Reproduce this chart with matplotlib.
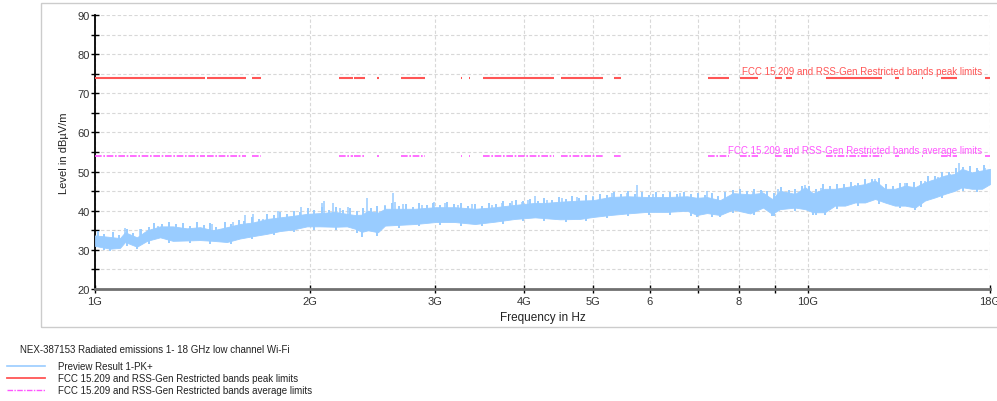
import numpy as np
import matplotlib
matplotlib.use("Agg")
import matplotlib.pyplot as plt
from matplotlib.lines import Line2D
from matplotlib.patches import Rectangle
from matplotlib.ticker import FixedLocator, NullFormatter

plt.rcParams['font.family'] = ['Liberation Sans', 'DejaVu Sans']

# ---- measured trace: envelope of the preview scan (GHz, dBuV/m) ----
env_freq = [1.000, 1.050, 1.084, 1.102, 1.145, 1.183, 1.234, 1.286, 1.346, 1.404,
            1.464, 1.531, 1.597, 1.666, 1.743, 1.817, 1.895, 1.983, 2.068, 2.171,
            2.256, 2.316, 2.368, 2.415, 2.494, 2.551, 2.811, 3.000, 3.198, 3.412,
            3.639, 3.882, 4.141, 4.277, 4.489, 4.788, 4.995, 5.277, 5.574, 5.946,
            6.343, 6.766, 6.988, 7.217, 7.527, 7.850, 8.294, 8.650, 8.904, 9.136,
            9.589, 9.904, 10.16, 10.56, 10.91, 11.27, 11.64, 12.02, 12.42, 12.82,
            13.24, 13.68, 14.13, 14.59, 15.07, 15.56, 16.07, 16.44, 16.98, 17.54, 18.0]
env_top = [33.7, 33.3, 33.0, 34.5, 33.2, 35.0, 36.0, 36.0, 35.5, 35.8,
           35.0, 35.8, 36.6, 37.0, 37.9, 38.3, 38.7, 39.2, 39.4, 39.7,
           39.2, 38.9, 39.0, 40.0, 39.5, 40.5, 40.5, 40.9, 40.9, 40.5,
           40.9, 41.5, 42.0, 42.0, 42.3, 42.6, 42.7, 43.5, 43.7, 43.5,
           43.5, 43.7, 43.3, 43.5, 42.7, 44.5, 44.2, 44.6, 43.0, 45.1,
           44.3, 46.0, 44.5, 45.6, 45.6, 46.0, 46.4, 46.8, 47.7, 45.6,
           45.6, 46.4, 46.0, 47.3, 48.1, 49.0, 49.4, 50.7, 49.8, 50.3, 50.7]
env_bottom = [31.0, 30.3, 30.5, 32.0, 30.8, 32.3, 33.2, 32.3, 32.4, 32.5,
              32.3, 32.0, 32.9, 33.5, 34.1, 34.8, 35.2, 36.0, 36.0, 35.9,
              36.0, 35.4, 34.6, 35.0, 34.5, 36.2, 36.6, 37.1, 37.1, 36.6,
              37.2, 37.9, 38.3, 38.1, 37.8, 37.9, 38.4, 38.9, 39.3, 39.7,
              39.7, 40.0, 38.9, 39.4, 38.9, 40.3, 39.3, 40.8, 39.2, 40.4,
              40.8, 40.4, 39.6, 39.6, 41.3, 41.3, 42.1, 42.1, 43.0, 42.1,
              41.3, 41.3, 40.8, 42.6, 43.4, 44.3, 45.1, 46.0, 45.6, 45.6, 46.8]

# short excursions along the top of the noise band (GHz, dBuV/m)
grass_freq = [1.01, 1.03, 1.06, 1.08, 1.11, 1.13, 1.16, 1.19, 1.21, 1.24, 1.27, 1.30, 1.33,
              1.36, 1.39, 1.42, 1.45, 1.48, 1.52, 1.55, 1.59, 1.62, 1.66, 1.70, 1.74, 1.78,
              1.82, 1.86, 1.90, 1.94, 1.99, 2.03, 2.08, 2.13, 2.18, 2.23, 2.28, 2.33, 2.38,
              2.44, 2.49, 2.55, 2.61, 2.67, 2.73, 2.79, 2.85, 2.92, 2.98, 3.05, 3.12, 3.19,
              3.26, 3.34, 3.41, 3.49, 3.57, 3.65, 3.73, 3.82, 3.90, 3.99, 4.08, 4.18, 4.27,
              4.37, 4.47, 4.57, 4.67, 4.78, 4.89, 5.00, 5.11, 5.23, 5.35, 5.47, 5.59, 5.72,
              5.85, 5.98, 6.12, 6.26, 6.40, 6.55, 6.70, 6.85, 7.00, 7.16, 7.33, 7.49, 7.66,
              7.84, 8.02, 8.20, 8.39, 8.58, 8.77, 8.97, 9.18, 9.39, 9.60, 9.82, 10.04, 10.27,
              10.51, 10.75, 10.99, 11.24, 11.50, 11.76, 12.03, 12.30, 12.58, 12.87, 13.17,
              13.47, 13.77, 14.09, 14.41, 14.74, 15.07, 15.42, 15.77, 16.13, 16.50, 16.87,
              17.26, 17.65]
grass_level = [34.8, 34.0, 34.6, 33.8, 35.4, 34.2, 35.3, 35.8, 36.9, 36.6, 37.2, 36.5, 36.9,
               36.2, 37.0, 36.4, 36.8, 35.9, 37.1, 36.6, 37.6, 37.3, 38.4, 38.0, 39.1, 38.8,
               39.7, 39.2, 40.0, 39.6, 40.8, 40.1, 41.0, 40.3, 40.9, 40.2, 40.6, 39.8, 40.7,
               40.6, 41.1, 41.3, 41.9, 41.2, 41.8, 41.0, 41.9, 41.4, 42.0, 41.5, 42.1, 41.6,
               41.9, 41.3, 41.8, 41.3, 42.0, 41.6, 42.4, 42.0, 42.8, 42.4, 43.0, 42.6, 43.3,
               42.8, 43.5, 43.0, 43.7, 43.2, 43.9, 43.4, 44.3, 44.0, 44.7, 44.2, 45.0, 44.3,
               44.8, 44.1, 44.7, 44.2, 44.9, 44.3, 44.9, 44.2, 44.6, 44.1, 44.5, 43.7, 44.8,
               45.2, 45.6, 45.0, 45.5, 45.2, 45.1, 44.4, 46.1, 45.4, 45.6, 46.4, 46.2, 45.6,
               46.7, 46.3, 46.9, 46.7, 47.4, 47.1, 48.0, 48.1, 48.3, 46.8, 46.3,
               47.2, 47.0, 47.3, 47.5, 48.8, 48.9, 50.0, 49.9, 50.8, 51.2, 51.3,
               50.8, 51.6]

# short excursions along the bottom of the noise band (GHz, dBuV/m)
floor_freq = [1.03, 1.05, 1.11, 1.145, 1.19, 1.27, 1.36, 1.45, 1.55, 1.66, 1.78, 1.90, 2.03,
              2.18, 2.33, 2.368, 2.49, 2.67, 2.85, 3.05, 3.26, 3.49, 3.73, 3.99, 4.27, 4.57,
              4.89, 5.23, 5.59, 5.98, 6.40, 6.85, 6.988, 7.33, 7.527, 7.84, 8.39, 8.904, 8.97,
              9.60, 10.16, 10.27, 10.56, 10.99, 11.76, 12.58, 13.47, 14.13, 14.41, 15.42,
              16.50, 17.26]
floor_level = [29.9, 29.8, 31.0, 30.2, 31.6, 31.8, 31.7, 31.5, 31.5, 32.7, 33.7, 34.5, 35.2,
               35.2, 34.3, 33.4, 33.6, 35.7, 36.0, 36.4, 36.2, 36.1, 36.7, 37.3, 37.4, 37.1,
               37.4, 38.1, 38.6, 38.9, 39.0, 38.6, 38.3, 38.5, 38.4, 39.5, 38.9, 38.7, 38.7,
               40.0, 39.0, 38.9, 39.0, 40.5, 41.3, 41.6, 40.6, 40.2, 41.0, 43.3,
               45.1, 44.8]

# narrow peaks rising well above the noise floor (GHz, dBuV/m)
peak_freq = [1.102, 1.156, 1.225, 1.459, 1.561, 1.623, 1.666, 1.720, 1.806, 1.945,
             2.082, 2.095, 2.157, 2.206, 2.263, 2.407, 2.551, 2.616, 2.635, 2.704,
             2.875, 2.984, 3.097, 3.229, 3.379, 3.604, 3.723, 3.845, 3.972, 4.050,
             4.141, 4.305, 4.519, 4.744, 4.995, 5.311, 5.574, 5.757, 6.062, 6.614,
             7.217, 7.850, 8.374, 8.622, 9.078, 9.904, 10.43, 11.64, 12.42, 13.68,
             14.59, 15.22, 15.82, 16.28, 17.32, 17.71]
peak_level = [35.5, 35.4, 36.2, 36.6, 37.2, 38.9, 39.2, 37.8, 40.0, 41.0,
              41.9, 42.4, 42.0, 40.8, 41.0, 43.3, 41.4, 44.6, 42.2, 41.6,
              41.5, 42.3, 42.0, 41.5, 41.6, 41.5, 42.0, 42.5, 42.2, 42.7,
              43.8, 42.7, 43.2, 43.4, 43.8, 44.6, 44.4, 46.6, 44.3, 44.4,
              45.1, 44.7, 44.9, 45.0, 45.6, 46.6, 45.9, 46.6, 48.1, 47.1,
              47.7, 48.5, 49.4, 52.2, 50.3, 50.9]

# restricted bands (GHz) where the limits apply
band_start = [1.000, 1.435, 1.6455, 1.660, 1.7188, 2.200, 2.310, 2.4835, 2.690, 3.260,
              3.332, 3.3458, 3.500, 4.500, 5.350, 7.250, 8.025, 9.000, 9.300, 10.60,
              13.25, 14.47, 15.35, 17.70]
band_stop = [1.427, 1.6265, 1.6465, 1.710, 1.7222, 2.300, 2.390, 2.500, 2.900, 3.267,
             3.339, 3.358, 4.400, 5.150, 5.460, 7.750, 8.500, 9.200, 9.500, 12.70,
             13.40, 14.50, 16.20, 18.00]
peak_limit = 74.0
avg_limit = 54.0

x_ticks = [1, 2, 3, 4, 5, 6, 7, 8, 9, 10, 18]
x_tick_labels = ["1G", "2G", "3G", "4G", "5G", "6", "", "8", "", "10G", "18G"]

trace_color = "#99ccff"
peak_color = "#ff5555"
avg_color = "#ff55ff"

W, H = 997, 402
fig = plt.figure(figsize=(W / 100, H / 100), dpi=100)

# outer panel border
fig.patches.append(Rectangle((41 / W, 1 - 328 / H), (1010 - 41) / W, (328 - 4) / H,
                             transform=fig.transFigure, fill=False,
                             edgecolor="#cccccc", linewidth=1.0))

ax = fig.add_axes([95 / W, 1 - 290 / H, (990 - 95) / W, (290 - 16) / H])
ax.set_xscale("log")
ax.set_xlim(1, 18)
ax.set_ylim(20, 90)

# trace
ax.fill_between(env_freq, env_bottom, env_top, color=trace_color, linewidth=0.6,
                edgecolor=trace_color, zorder=3)
lf = np.log10(env_freq)
grass_base = np.interp(np.log10(grass_freq), lf, env_top) - 2.0
ax.vlines(grass_freq, grass_base, grass_level, color=trace_color, linewidth=1.4, zorder=3)
floor_base = np.interp(np.log10(floor_freq), lf, env_bottom) + 1.5
ax.vlines(floor_freq, floor_level, floor_base, color=trace_color, linewidth=1.4, zorder=3)
peak_base = np.interp(np.log10(peak_freq), lf, env_top) - 2.0
ax.vlines(peak_freq, peak_base, peak_level, color=trace_color, linewidth=1.1, zorder=3)

# limit lines
ax.hlines([peak_limit] * len(band_start), band_start, band_stop, color=peak_color,
          linewidth=1.5, zorder=4)
ax.hlines([avg_limit] * len(band_start), band_start, band_stop, color=avg_color,
          linewidth=1.2, linestyles=(0, (4, 1, 1, 1)), zorder=4)

ax.text(17.55, peak_limit + 0.3, "FCC 15.209 and RSS-Gen Restricted bands peak limits",
        color=peak_color, fontsize=7, ha="right", va="bottom", zorder=5)
ax.text(17.55, avg_limit + 0.3, "FCC 15.209 and RSS-Gen Restricted bands average limits",
        color=avg_color, fontsize=7, ha="right", va="bottom", zorder=5)

# axes styling
for s in ("top", "right"):
    ax.spines[s].set_visible(False)
ax.spines["left"].set_color("black")
ax.spines["left"].set_linewidth(1.3)
ax.spines["bottom"].set_color("#707070")
ax.spines["bottom"].set_linewidth(2.0)

ax.xaxis.set_major_locator(FixedLocator(x_ticks))
ax.set_xticklabels(x_tick_labels)
ax.xaxis.set_minor_formatter(NullFormatter())
ax.xaxis.set_minor_locator(FixedLocator([]))
ax.set_yticks(np.arange(20, 91, 10))
ax.set_yticks(np.arange(25, 90, 10), minor=True)
ax.tick_params(axis="both", which="both", direction="inout", length=6, width=1.0,
               color="black", labelsize=8, labelcolor="#333333", pad=0.5)
ax.tick_params(axis="x", pad=2)

ax.grid(True, which="major", axis="x", color="#d8d8d8", linestyle=(0, (3, 2)), linewidth=0.8)
ax.grid(True, which="both", axis="y", color="#d8d8d8", linestyle=(0, (3, 2)), linewidth=0.8)
ax.set_axisbelow(True)

ax.set_xlabel("Frequency in Hz", fontsize=8.5, color="#222222", labelpad=4)
ax.set_ylabel("Level in dB\u00b5V/m", fontsize=8, color="#222222", labelpad=6)

# legend block below the chart
fig.text(20 / W, 1 - 350 / H, "NEX-387153 Radiated emissions 1- 18 GHz low channel Wi-Fi",
         fontsize=7, color="#222222", va="center", ha="left")
legend_rows = [
    ("Preview Result 1-PK+", trace_color, "-", 1.2, 367),
    ("FCC 15.209 and RSS-Gen Restricted bands peak limits", peak_color, "-", 1.3, 379),
    ("FCC 15.209 and RSS-Gen Restricted bands average limits", avg_color, (0, (4, 1, 1, 1)), 1.0, 391),
]
for label, col, ls, lw, ypx in legend_rows:
    yf = 1 - ypx / H
    fig.add_artist(Line2D([7 / W, 45 / W], [yf, yf], color=col, linestyle=ls,
                          linewidth=lw, transform=fig.transFigure))
    fig.text(58 / W, yf, label, fontsize=7, color="#222222", va="center", ha="left")

fig.savefig("out.png", dpi=100)
